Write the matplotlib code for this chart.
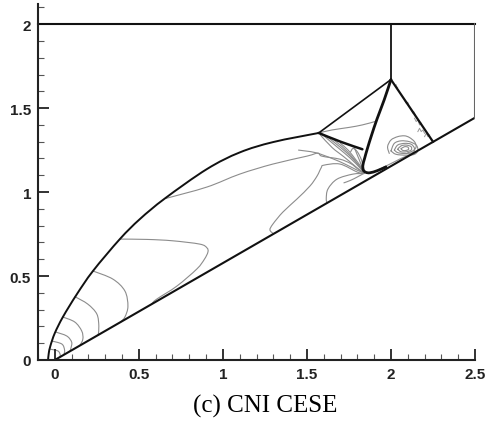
import matplotlib
matplotlib.use("Agg")
import matplotlib.pyplot as plt
from matplotlib.ticker import MultipleLocator, FixedLocator
from matplotlib.path import Path
from matplotlib.patches import PathPatch
import numpy as np

# ---------------- data ----------------
x_ticks = [0, 0.5, 1, 1.5, 2, 2.5]
x_tick_labels = ["0", "0.5", "1", "1.5", "2", "2.5"]
y_ticks = [0, 0.5, 1, 1.5, 2]
y_tick_labels = ["0", "0.5", "1", "1.5", "2"]
caption = "(c) CNI CESE"

# domain boundaries
wedge_x = [0.0, 2.5]
wedge_y = [0.0, 1.443]
top_x = [-0.1, 2.5]
top_y = [2.0, 2.0]
right_x = [2.5, 2.5]
right_y = [2.0, 1.443]

# shocks (dark lines)
incident_x = [2.0, 2.0]
incident_y = [2.0, 1.67]
bow_x = [-0.04, -0.036, -0.026, 0.0, 0.048, 0.13, 0.227, 0.387, 0.506, 0.655,
         0.905, 1.10, 1.30, 1.57]
bow_y = [0.0, 0.04, 0.085, 0.16, 0.256, 0.39, 0.53, 0.72, 0.839, 0.962,
         1.137, 1.236, 1.298, 1.352]
mach_x = [1.57, 2.0]
mach_y = [1.352, 1.67]
reflect2_x = [2.0, 2.25]
reflect2_y = [1.67, 1.30]
reflect1_x = [1.57, 1.70, 1.83]
reflect1_y = [1.352, 1.30, 1.255]
curved_x = [2.0, 1.96, 1.917, 1.885, 1.86, 1.843, 1.833, 1.835, 1.85, 1.875, 1.92, 1.97]
curved_y = [1.67, 1.55, 1.435, 1.34, 1.26, 1.20, 1.16, 1.132, 1.118, 1.115, 1.128, 1.15]

# contour lines (gray)
contours = {
    "nose_a": ([0.227, 0.345, 0.417, 0.435, 0.417, 0.39],
               [0.53, 0.482, 0.411, 0.32, 0.256, 0.225]),
    "nose_b": ([0.12, 0.196, 0.25, 0.262, 0.258],
               [0.377, 0.333, 0.274, 0.202, 0.149]),
    "nose_c": ([0.048, 0.119, 0.16, 0.167, 0.149],
               [0.256, 0.226, 0.173, 0.125, 0.086]),
    "nose_d": ([0.004, 0.071, 0.10, 0.097, 0.09],
               [0.167, 0.143, 0.107, 0.075, 0.052]),
    "nose_e": ([-0.017, 0.042, 0.058, 0.055],
               [0.113, 0.095, 0.06, 0.032]),
    "nose_f": ([-0.03, 0.018, 0.032, 0.03],
               [0.065, 0.054, 0.032, 0.017]),
    "loop": ([0.387, 0.55, 0.70, 0.863, 0.905, 0.911, 0.89, 0.845, 0.726, 0.607, 0.577],
             [0.72, 0.718, 0.71, 0.69, 0.668, 0.643, 0.60, 0.542, 0.44, 0.363, 0.335]),
    "long": ([0.66, 0.905, 1.10, 1.298, 1.50, 1.565, 1.589, 1.696, 1.76, 1.80, 1.84],
             [0.962, 1.03, 1.107, 1.167, 1.214, 1.232, 1.214, 1.196, 1.17, 1.14, 1.115]),
    "drop": ([1.84, 1.80, 1.696, 1.60, 1.585, 1.56, 1.518, 1.44, 1.357, 1.298, 1.28, 1.30],
             [1.112, 1.119, 1.167, 1.16, 1.145, 1.095, 1.036, 0.958, 0.881, 0.81, 0.775, 0.752]),
    "small": ([1.84, 1.774, 1.679, 1.625, 1.615, 1.62],
              [1.11, 1.107, 1.077, 1.018, 0.96, 0.935]),
    "fan1": ([1.59, 1.63, 1.69, 1.76, 1.81, 1.84],
             [1.345, 1.31, 1.26, 1.20, 1.15, 1.115]),
    "fan2": ([1.62, 1.67, 1.73, 1.78, 1.82, 1.84],
             [1.33, 1.29, 1.24, 1.19, 1.145, 1.115]),
    "fan3": ([1.66, 1.71, 1.76, 1.80, 1.835],
             [1.31, 1.27, 1.22, 1.17, 1.12]),
    "fan4": ([1.70, 1.745, 1.785, 1.815, 1.838],
             [1.29, 1.25, 1.20, 1.16, 1.12]),
    "fan5": ([1.58, 1.65, 1.72, 1.78, 1.83],
             [1.34, 1.265, 1.21, 1.16, 1.118]),
    "fan6": ([1.45, 1.55, 1.65, 1.73, 1.80, 1.838],
             [1.25, 1.235, 1.20, 1.165, 1.13, 1.115]),
    "fan7": ([1.78, 1.80, 1.82, 1.835],
             [1.27, 1.22, 1.17, 1.125]),
    "fan8": ([1.76, 1.775, 1.80, 1.825, 1.84],
             [1.24, 1.26, 1.24, 1.19, 1.13]),
    "fan9": ([1.84, 1.80, 1.76, 1.72],
             [1.112, 1.09, 1.07, 1.055]),
    "slip": ([1.57, 1.65, 1.75, 1.83, 1.905],
             [1.352, 1.37, 1.385, 1.40, 1.42]),
    "wall_jet": ([1.92, 1.98, 2.03, 2.07, 2.12, 2.155],
                 [1.13, 1.16, 1.185, 1.205, 1.225, 1.238]),
    "blob": ([1.99, 1.98, 2.0, 2.04, 2.08, 2.11, 2.14, 2.15, 2.13, 2.10],
             [1.23, 1.27, 1.31, 1.33, 1.335, 1.325, 1.30, 1.27, 1.245, 1.235]),
    "vortex_1": ([2.00, 2.02, 2.06, 2.11, 2.15, 2.16, 2.14, 2.09, 2.03, 2.00],
                 [1.245, 1.29, 1.305, 1.30, 1.28, 1.25, 1.225, 1.22, 1.225, 1.245]),
    "vortex_2": ([2.02, 2.04, 2.08, 2.12, 2.14, 2.13, 2.08, 2.04, 2.02],
                 [1.25, 1.28, 1.29, 1.285, 1.26, 1.235, 1.23, 1.235, 1.25]),
    "vortex_3": ([2.04, 2.06, 2.09, 2.12, 2.12, 2.09, 2.06, 2.04],
                 [1.255, 1.275, 1.28, 1.27, 1.25, 1.24, 1.24, 1.255]),
    "vortex_4": ([2.06, 2.08, 2.10, 2.105, 2.09, 2.07, 2.06],
                 [1.258, 1.27, 1.268, 1.255, 1.248, 1.248, 1.258]),
}
noise = {
    "noise_1": ([2.03, 2.035, 2.04], [1.64, 1.62, 1.625]),
    "noise_2": ([2.08, 2.09, 2.1, 2.105], [1.55, 1.53, 1.535, 1.52]),
    "noise_3": ([2.12, 2.13, 2.135, 2.145], [1.49, 1.47, 1.48, 1.46]),
    "noise_4": ([2.14, 2.15, 2.16, 2.17, 2.18], [1.44, 1.42, 1.43, 1.40, 1.41]),
    "noise_5": ([2.16, 2.17, 2.18, 2.19, 2.2], [1.36, 1.38, 1.36, 1.37, 1.35]),
    "noise_6": ([2.2, 2.21, 2.22, 2.23], [1.33, 1.35, 1.33, 1.34]),
}


def smooth_path(xs, ys):
    """Catmull-Rom curve through the given points, as a Bezier Path."""
    p = np.column_stack([xs, ys]).astype(float)
    n = len(p)
    if n < 3:
        return Path(p)
    verts = [p[0]]
    codes = [Path.MOVETO]
    for i in range(n - 1):
        p0 = p[i - 1] if i > 0 else p[i]
        p1 = p[i]
        p2 = p[i + 1]
        p3 = p[i + 2] if i + 2 < n else p[i + 1]
        c1 = p1 + (p2 - p0) / 6.0
        c2 = p2 - (p3 - p1) / 6.0
        verts += [c1, c2, p2]
        codes += [Path.CURVE4] * 3
    return Path(verts, codes)


def draw_smooth(ax, xs, ys, **kw):
    ax.add_patch(PathPatch(smooth_path(xs, ys), fill=False, capstyle="round",
                           joinstyle="round", **kw))


# ---------------- figure ----------------
fig = plt.figure(figsize=(4.95, 4.27), dpi=100)
ax = fig.add_axes([38 / 495, (427 - 361) / 427, (475 - 38) / 495, (361 - 5) / 427])
ax.set_xlim(-0.1, 2.5)
ax.set_ylim(0, 2.12)

gray = "#8c8c8c"
for name, (cx, cy) in contours.items():
    draw_smooth(ax, cx, cy, edgecolor=gray, lw=0.8)
for name, (cx, cy) in noise.items():
    ax.plot(cx, cy, color="#9a9a9a", lw=0.7)

dark = "#111111"
ax.plot(wedge_x, wedge_y, color=dark, lw=1.5)
ax.plot(top_x, top_y, color=dark, lw=1.5, clip_on=False)
ax.plot(right_x, right_y, color="#666666", lw=1.5)
ax.plot(incident_x, incident_y, color=dark, lw=1.3)
draw_smooth(ax, bow_x, bow_y, edgecolor=dark, lw=1.4)
ax.plot(mach_x, mach_y, color=dark, lw=1.2)
ax.plot(reflect2_x, reflect2_y, color=dark, lw=1.6)
draw_smooth(ax, reflect1_x, reflect1_y, edgecolor=dark, lw=1.8)
draw_smooth(ax, curved_x, curved_y, edgecolor=dark, lw=2.0)

for s in ["top", "right"]:
    ax.spines[s].set_visible(False)
for s in ["left", "bottom"]:
    ax.spines[s].set_linewidth(1.5)
    ax.spines[s].set_color("#222222")

ax.xaxis.set_major_locator(FixedLocator(x_ticks))
ax.yaxis.set_major_locator(FixedLocator(y_ticks))
ax.set_xticklabels(x_tick_labels)
ax.set_yticklabels(y_tick_labels)
ax.xaxis.set_minor_locator(MultipleLocator(0.1))
ax.yaxis.set_minor_locator(MultipleLocator(0.1))
ax.tick_params(which="major", direction="in", length=8, width=1.3, color="#222222",
               labelsize=11, pad=5)
ax.tick_params(which="minor", direction="in", length=4, width=0.8, color="#555555")
for lab in ax.get_xticklabels() + ax.get_yticklabels():
    lab.set_fontfamily(["Liberation Sans", "DejaVu Sans"])
    lab.set_fontweight("bold")
    lab.set_color("#222222")

fig.text(265 / 495, 1 - 406 / 427, caption, ha="center", va="center",
         fontsize=18, family=["Liberation Serif", "DejaVu Serif"])

fig.savefig("out.png", dpi=100)
